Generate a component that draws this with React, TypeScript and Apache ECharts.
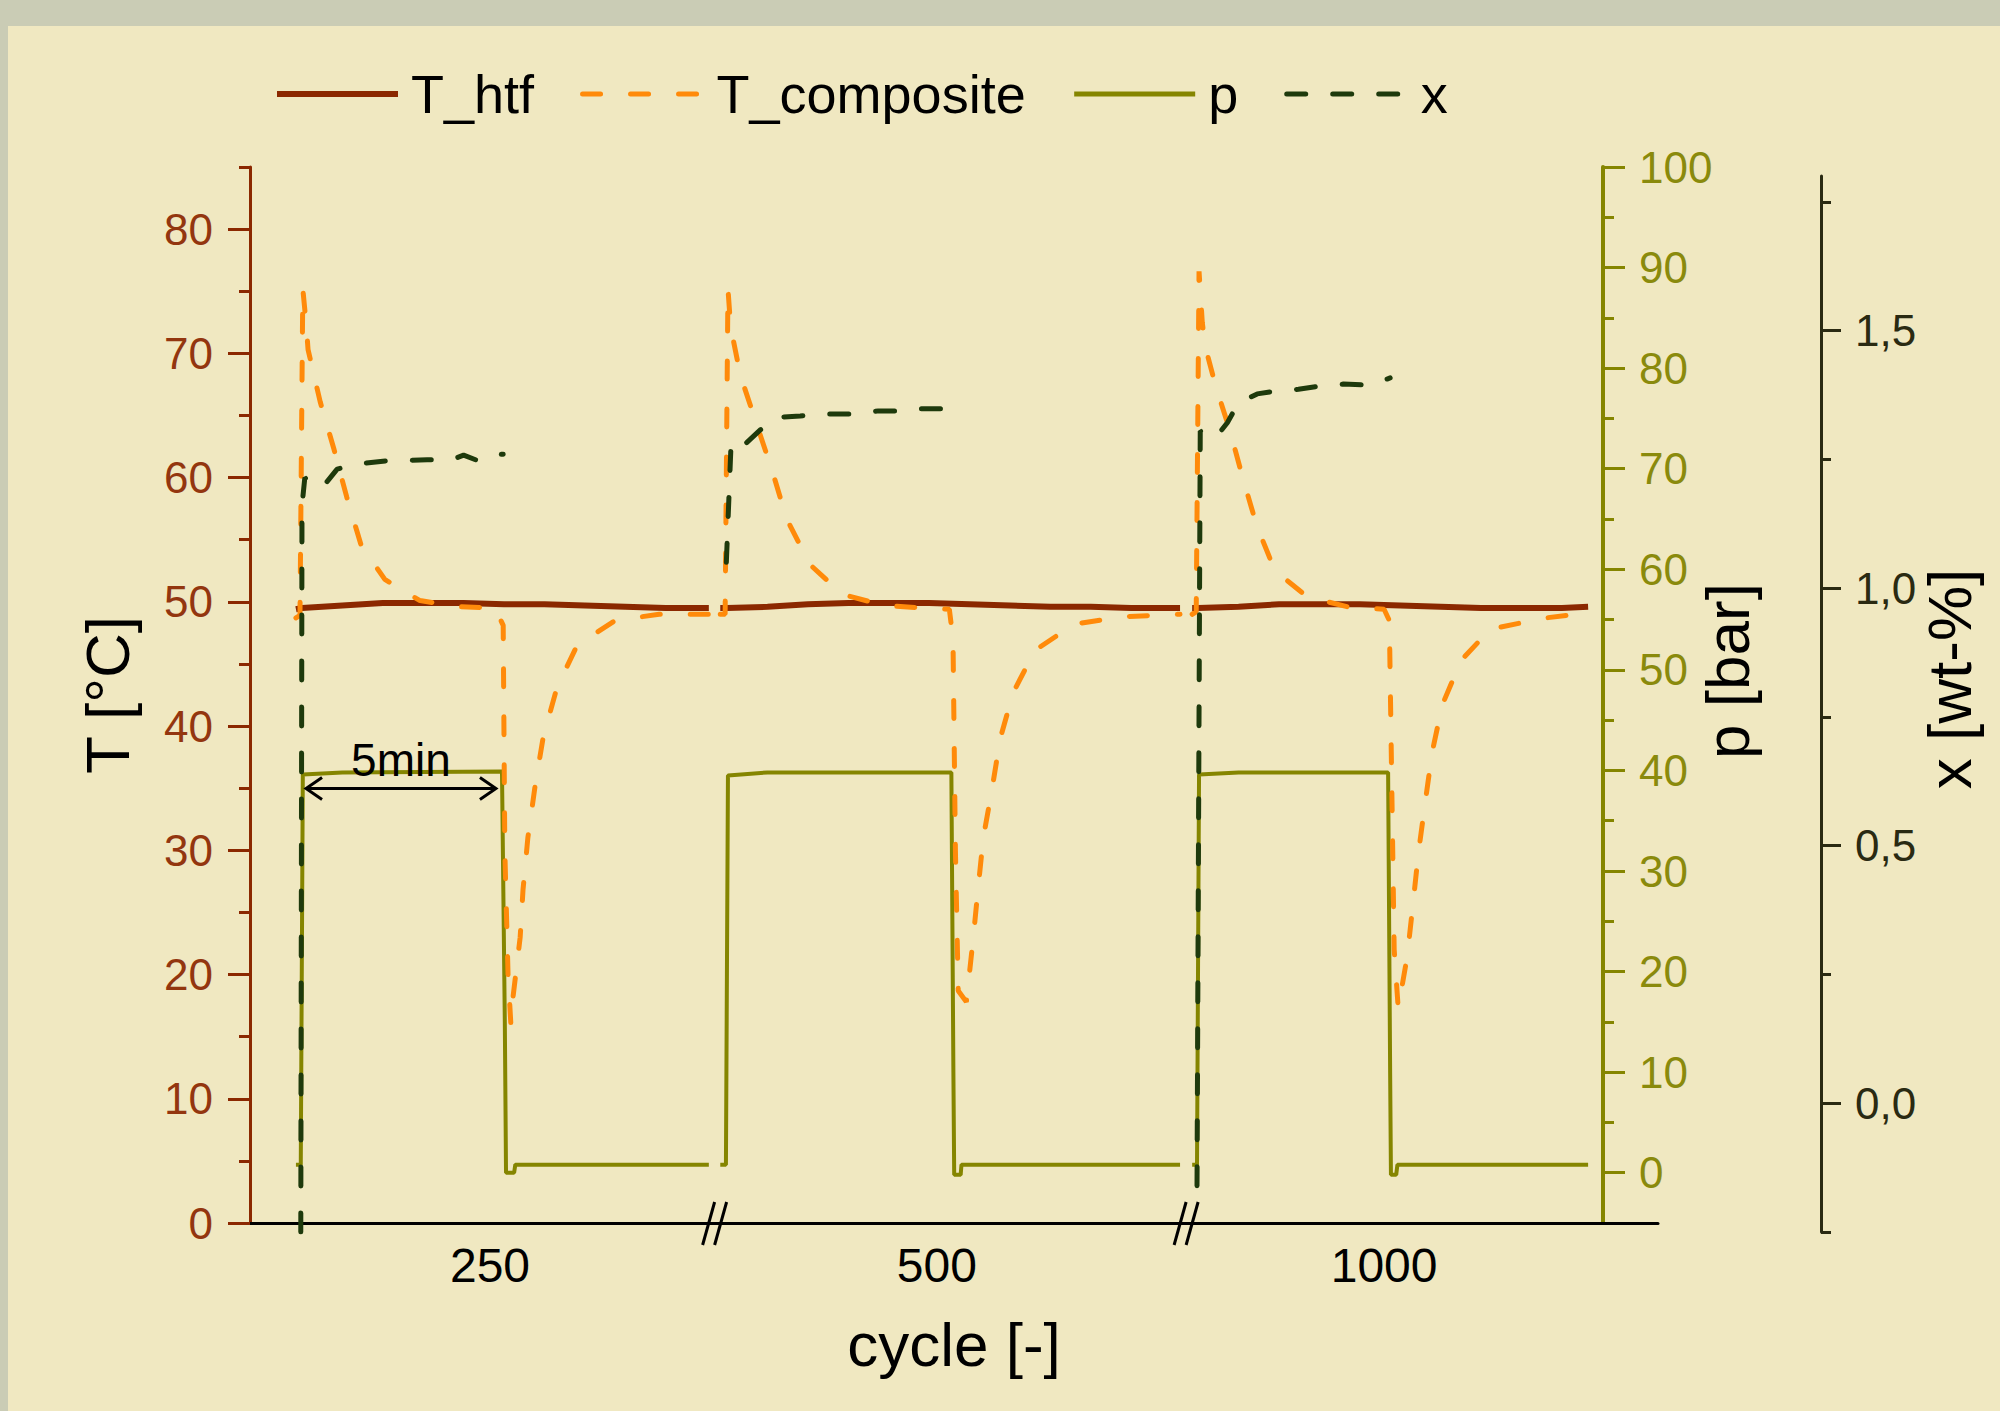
import React, { useEffect, useRef } from 'react';
import * as echarts from 'echarts';

// ---------- DATA ----------
// Broken "cycle" axis: each segment is one sorption step (time in minutes, t = 0 at pressure step)
const segmentStart = [1.287, 11.81, 23.47]; // axis position (min) of t = 0 in each segment
const cycleLabels = ['250', '500', '1000'];
const cycleLabelPos = [5.94, 17.0, 28.07];
const breakPos = [11.5, 23.17];

// T_htf [°C]  ([t min, value])
const Thtf_250 = [[-0.15, 49.4], [0, 49.5], [1, 49.7], [2, 49.9], [3, 49.9], [4, 49.9], [5, 49.8], [6, 49.8], [7, 49.7], [8, 49.6], [9, 49.5], [10.07, 49.5]];
const Thtf_500 = [[-0.17, 49.5], [0, 49.5], [1, 49.6], [2, 49.8], [3, 49.9], [4, 49.9], [5, 49.9], [6, 49.8], [7, 49.7], [8, 49.6], [9, 49.6], [10, 49.5], [11.21, 49.5]];
const Thtf_1000 = [[-0.15, 49.5], [0, 49.5], [1, 49.6], [2, 49.8], [3, 49.8], [4, 49.8], [5, 49.7], [6, 49.6], [7, 49.5], [8, 49.5], [9, 49.5], [9.65, 49.6]];

// T_composite [°C]
const Tcomp_250 = [[-0.15, 48.7], [-0.05, 48.9], [0.02, 75.2], [0.1, 72.5], [0.15, 70.3], [0.45, 66.1], [0.79, 62.3], [1.11, 58.4], [1.46, 54.6], [2.05, 51.8], [2.92, 50.1], [3.91, 49.6], [4.78, 49.5], [4.98, 48.1], [5.02, 30], [5.1, 20], [5.17, 16.0], [5.22, 18.1], [5.4, 23.0], [5.47, 26.8], [5.59, 31.0], [5.77, 35.2], [5.97, 39.1], [6.31, 43.1], [6.81, 46.5], [7.75, 48.5], [8.84, 49.0], [10.07, 49.0]];
const Tcomp_500 = [[-0.17, 49.0], [-0.05, 49.0], [0.02, 75.2], [0.07, 72.9], [0.15, 71.1], [0.33, 68.2], [0.73, 64.3], [1.12, 60.5], [1.47, 56.7], [2.05, 53.0], [2.85, 50.6], [3.9, 49.7], [4.9, 49.5], [5.5, 49.4], [5.59, 47.0], [5.65, 30.0], [5.72, 18.7], [5.92, 17.8], [6.09, 22.9], [6.21, 26.9], [6.34, 31.0], [6.56, 35.0], [6.76, 39.0], [7.08, 42.7], [7.62, 46.1], [8.59, 48.2], [9.78, 48.8], [11.21, 49.0]];
const Tcomp_1000 = [[-0.15, 49.0], [-0.05, 49.2], [0.02, 76.6], [0.1, 72.5], [0.17, 70.6], [0.42, 67.5], [0.8, 63.6], [1.1, 60.0], [1.45, 56.1], [1.9, 52.5], [2.7, 50.4], [3.7, 49.6], [4.6, 49.4], [4.73, 48.5], [4.85, 22.0], [4.95, 17.3], [5.17, 21.4], [5.32, 25.8], [5.45, 29.8], [5.62, 33.9], [5.79, 37.9], [6.04, 41.7], [6.51, 45.3], [7.23, 47.8], [8.59, 48.7], [9.63, 49.1]];

// p [bar]
const p_250 = [[-0.15, 0.8], [-0.03, 0.8], [0.02, 39.6], [1, 39.8], [4.95, 39.9], [5.02, 15], [5.05, 0.0], [5.25, 0.0], [5.28, 0.8], [10.07, 0.8]];
const p_500 = [[-0.17, 0.8], [-0.03, 0.8], [0.02, 39.5], [1, 39.8], [5.55, 39.8], [5.6, 10], [5.62, -0.2], [5.78, -0.2], [5.8, 0.8], [11.21, 0.8]];
const p_1000 = [[-0.15, 0.8], [-0.03, 0.8], [0.02, 39.6], [1, 39.8], [4.7, 39.8], [4.75, 10], [4.77, -0.2], [4.9, -0.2], [4.93, 0.8], [9.65, 0.8]];

// x [wt-%]
const x_250 = [[-0.03, -0.25], [0.0, 1.16], [0.07, 1.214], [0.5, 1.195], [0.87, 1.231], [1.35, 1.241], [2.1, 1.247], [3.1, 1.249], [3.7, 1.249], [4.0, 1.258], [4.3, 1.249], [4.5, 1.258], [4.98, 1.26]];
const x_500 = [[-0.02, 1.05], [0.1, 1.286], [0.45, 1.28], [0.82, 1.307], [1.31, 1.332], [1.81, 1.334], [2.3, 1.338], [3.17, 1.338], [3.74, 1.344], [4.28, 1.344], [4.78, 1.348], [5.64, 1.348]];
const x_1000 = [[-0.03, -0.16], [0.05, 1.305], [0.42, 1.291], [0.72, 1.321], [0.99, 1.359], [1.46, 1.377], [1.96, 1.383], [2.48, 1.386], [3.0, 1.392], [3.59, 1.396], [4.26, 1.394], [4.75, 1.408]];

// tick values
const T_major = [0, 10, 20, 30, 40, 50, 60, 70, 80];
const T_minor = [5, 15, 25, 35, 45, 55, 65, 75, 85];
const p_major = [0, 10, 20, 30, 40, 50, 60, 70, 80, 90, 100];
const p_minor = [5, 15, 25, 35, 45, 55, 65, 75, 85, 95];
const x_major = [0, 0.5, 1.0, 1.5];
const x_minor = [-0.25, 0.25, 0.75, 1.25, 1.75];

// "5min" annotation (segment 1, on p scale)
const arrowT = [0.1, 4.8];
const arrowP = 38.2;

// ---------- STYLE ----------
const FONT = "'Liberation Sans', Arial, Helvetica, sans-serif";
const C = {
  htf: '#8B2800',
  htfText: '#93360F',
  comp: '#FF8A0A',
  p: '#858500',
  pText: '#8A8A0C',
  x: '#1E3A0C',
  xAxis: '#2A2A12',
  page: '#CACCB5',
  panel: '#F0E8C1',
};

function join(segs: number[][][]) {
  const out: any[] = [];
  segs.forEach((seg, i) => {
    if (i > 0) out.push(['-', '-']);
    seg.forEach(([t, v]) => out.push([segmentStart[i] + t, v]));
  });
  return out;
}

const X_MAX = 34.85;

export default function App() {
  const ref = useRef<HTMLDivElement>(null);
  useEffect(() => {
    if (!ref.current) return;
    const chart = echarts.init(ref.current, undefined, { renderer: 'svg' });
    const tickSide = (color: string, len: number, values: number[]) => ({
      show: true, length: len, customValues: values, lineStyle: { color, width: 3 },
    });
    const hiddenLine = { show: false, onZero: false };
    const option: any = {
      animation: false,
      backgroundColor: 'transparent',
      textStyle: { fontFamily: FONT },
      grid: [
        { left: 250, right: 342, top: 167, bottom: 188 },
        { left: 250, right: 342, top: 176, bottom: 179 },
      ],
      legend: {
        left: 274, top: 67, padding: 0, itemWidth: 121, itemHeight: 14, itemGap: 46,
        itemStyle: { opacity: 0 },
        data: [
          { name: 'T_htf', lineStyle: { width: 6 } },
          { name: 'T_composite', lineStyle: { width: 5 } },
          { name: 'p', lineStyle: { width: 5 } },
          { name: 'x', lineStyle: { width: 5 } },
        ],
        lineStyle: { width: 5 },
        textStyle: { fontSize: 54, color: '#000', fontFamily: FONT, padding: [0, 0, 0, 8] },
      },
      xAxis: [
        {
          gridIndex: 0, type: 'value', min: 0, max: X_MAX,
          axisLine: { show: true, onZero: false, lineStyle: { color: '#000', width: 3 } },
          axisTick: { show: false }, splitLine: { show: false },
          axisLabel: {
            customValues: cycleLabelPos, fontSize: 48, color: '#000', margin: 18,
            formatter: (v: number) => {
              const i = cycleLabelPos.findIndex((q) => Math.abs(q - v) < 1e-6);
              return i >= 0 ? cycleLabels[i] : '';
            },
          },
          name: 'cycle [-]', nameLocation: 'middle', nameGap: 90,
          nameTextStyle: { fontSize: 62, color: '#000' },
        },
        { gridIndex: 1, type: 'value', min: 0, max: X_MAX, show: false, axisLine: hiddenLine },
      ],
      yAxis: [
        {
          gridIndex: 0, type: 'value', position: 'left', min: 0, max: 85,
          axisLine: { show: true, onZero: false, lineStyle: { color: C.htf, width: 3 } },
          axisTick: tickSide(C.htf, 22, T_major),
          axisLabel: { customValues: T_major, fontSize: 44, color: C.htfText, margin: 37 },
          splitLine: { show: false },
          name: 'T [°C]', nameLocation: 'middle', nameGap: 112,
          nameTextStyle: { fontSize: 62, color: '#000' },
        },
        {
          gridIndex: 0, type: 'value', position: 'left', min: 0, max: 85,
          axisLine: hiddenLine, axisLabel: { show: false }, splitLine: { show: false },
          axisTick: tickSide(C.htf, 11, T_minor),
        },
        {
          gridIndex: 0, type: 'value', position: 'right', offset: -55, min: -5, max: 100,
          axisLine: { show: true, onZero: false, lineStyle: { color: C.p, width: 4 } },
          axisTick: tickSide(C.p, 22, p_major),
          axisLabel: { customValues: p_major, fontSize: 44, color: C.pText, margin: 36 },
          splitLine: { show: false },
          name: 'p [bar]', nameLocation: 'middle', nameGap: 93, nameMoveOverlap: false,
          nameTextStyle: { fontSize: 62, color: '#000', padding: [0, 0, 0, 48] },
        },
        {
          gridIndex: 0, type: 'value', position: 'right', offset: -55, min: -5, max: 100,
          axisLine: hiddenLine, axisLabel: { show: false }, splitLine: { show: false },
          axisTick: tickSide(C.p, 11, p_minor),
        },
        {
          gridIndex: 1, type: 'value', position: 'right', offset: 163, min: -0.25, max: 1.8,
          axisLine: { show: true, onZero: false, lineStyle: { color: C.xAxis, width: 3 } },
          axisTick: tickSide(C.xAxis, 20, x_major),
          axisLabel: {
            customValues: x_major, fontSize: 44, color: C.xAxis, margin: 34,
            formatter: (v: number) => v.toFixed(1).replace('.', ','),
          },
          splitLine: { show: false },
          name: 'x [wt-%]', nameLocation: 'middle', nameGap: 97, nameMoveOverlap: false,
          nameTextStyle: { fontSize: 62, color: '#000', padding: [0, 0, 0, 50] },
        },
        {
          gridIndex: 1, type: 'value', position: 'right', offset: 163, min: -0.25, max: 1.8,
          axisLine: hiddenLine, axisLabel: { show: false }, splitLine: { show: false },
          axisTick: tickSide(C.xAxis, 10, x_minor),
        },
      ],
      series: [
        {
          name: 'T_htf', type: 'line', xAxisIndex: 0, yAxisIndex: 0, symbol: 'none', showSymbol: false, z: 2,
          data: join([Thtf_250, Thtf_500, Thtf_1000]),
          itemStyle: { color: C.htf }, lineStyle: { color: C.htf, width: 6 },
        },
        {
          name: 'p', type: 'line', xAxisIndex: 0, yAxisIndex: 2, symbol: 'none', showSymbol: false, z: 3,
          data: join([p_250, p_500, p_1000]),
          itemStyle: { color: C.p }, lineStyle: { color: C.p, width: 4 },
        },
        {
          name: 'T_composite', type: 'line', xAxisIndex: 0, yAxisIndex: 0, symbol: 'none', showSymbol: false, z: 4,
          data: join([Tcomp_250, Tcomp_500, Tcomp_1000]),
          itemStyle: { color: C.comp }, lineStyle: { color: C.comp, width: 5, type: [18, 30], cap: 'round' },
        },
        {
          name: 'x', type: 'line', xAxisIndex: 1, yAxisIndex: 4, symbol: 'none', showSymbol: false, z: 5,
          data: join([x_250, x_500, x_1000]),
          itemStyle: { color: C.x }, lineStyle: { color: C.x, width: 5, type: [19, 27], cap: 'round' },
        },
      ],
    };
    chart.setOption(option);

    // annotations placed through the axes' own scales
    const xp = (v: number) => chart.convertToPixel({ xAxisIndex: 0 }, v) as number;
    const yp = (axis: number, v: number) => chart.convertToPixel({ yAxisIndex: axis }, v) as number;
    const ax1 = xp(segmentStart[0] + arrowT[0]);
    const ax2 = xp(segmentStart[0] + arrowT[1]);
    const ay = yp(2, arrowP);
    const baseY = yp(0, 0);
    const graphic: any[] = [
      { type: 'line', shape: { x1: ax1, y1: ay, x2: ax2, y2: ay }, style: { stroke: '#000', lineWidth: 3 }, z: 100 },
      { type: 'polyline', shape: { points: [[ax1 + 16, ay - 11], [ax1, ay], [ax1 + 16, ay + 11]] }, style: { stroke: '#000', lineWidth: 3, fill: 'none' }, z: 100 },
      { type: 'polyline', shape: { points: [[ax2 - 16, ay - 11], [ax2, ay], [ax2 - 16, ay + 11]] }, style: { stroke: '#000', lineWidth: 3, fill: 'none' }, z: 100 },
      { type: 'text', x: (ax1 + ax2) / 2, y: ay - 6, style: { text: '5min', font: `46px ${FONT}`, fill: '#000', align: 'center', verticalAlign: 'bottom' }, z: 100 },
    ];
    breakPos.forEach((b) => {
      const bx = xp(b);
      [-6, 6].forEach((d) => {
        graphic.push({
          type: 'line',
          shape: { x1: bx + d - 6, y1: baseY + 22, x2: bx + d + 6, y2: baseY - 21 },
          style: { stroke: '#000', lineWidth: 3 }, z: 100,
        });
      });
    });
    chart.setOption({ graphic });

    return () => chart.dispose();
  }, []);

  return (
    <div style={{ position: 'fixed', left: 0, top: 0, width: 2000, height: 1411, background: C.page, overflow: 'hidden' }}>
      <div style={{ position: 'absolute', left: 8, top: 26, right: 0, bottom: 0, background: C.panel }} />
      <div ref={ref} style={{ position: 'absolute', left: 0, top: 0, width: 2000, height: 1411 }} />
    </div>
  );
}
